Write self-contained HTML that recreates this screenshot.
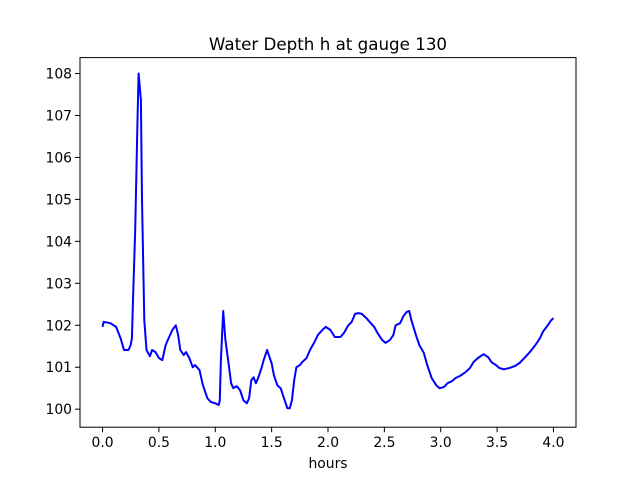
<!DOCTYPE html>
<html><head><meta charset="utf-8"><style>
body{margin:0;background:#fff;}
svg text{font-family:"DejaVu Sans","Liberation Sans",sans-serif;fill:#000;}
</style></head><body>
<svg id="chart" width="640" height="480">
<rect width="640" height="480" fill="#fff"/>
<text x="328" y="50" font-size="16.7" text-anchor="middle">Water Depth h at gauge 130</text>
<g id="xaxis"></g>
<g id="yaxis"></g>
<path id="line" fill="none" stroke="#0000ff" stroke-width="2" stroke-linejoin="round"/>
<rect x="80" y="57.6" width="496" height="369.6" fill="none" stroke="#000" stroke-width="1"/>
<text x="328" y="468" font-size="13.9" text-anchor="middle">hours</text>
</svg>
<script>
const hours=[0.00,0.01,0.07,0.12,0.16,0.19,0.23,0.25,0.26,0.27,0.29,0.31,0.32,0.34,0.35,0.37,0.39,0.42,0.44,0.47,0.50,0.53,0.56,0.58,0.62,0.65,0.67,0.69,0.72,0.74,0.77,0.80,0.82,0.86,0.89,0.93,0.96,1.00,1.03,1.04,1.05,1.07,1.09,1.12,1.14,1.16,1.19,1.22,1.25,1.28,1.30,1.32,1.34,1.36,1.38,1.41,1.43,1.46,1.49,1.50,1.52,1.55,1.58,1.61,1.64,1.66,1.68,1.70,1.72,1.75,1.77,1.81,1.84,1.88,1.91,1.95,1.98,2.02,2.06,2.11,2.14,2.18,2.21,2.24,2.27,2.30,2.34,2.37,2.41,2.44,2.48,2.51,2.55,2.58,2.60,2.64,2.67,2.70,2.72,2.74,2.78,2.81,2.85,2.88,2.92,2.96,2.99,3.03,3.06,3.10,3.13,3.17,3.22,3.26,3.29,3.33,3.38,3.42,3.45,3.49,3.52,3.56,3.61,3.66,3.70,3.75,3.79,3.84,3.88,3.91,3.95,3.98,4.00];
const depth=[101.96,102.08,102.05,101.96,101.69,101.41,101.41,101.53,101.69,102.60,104.27,106.90,108.00,107.37,104.99,102.12,101.41,101.26,101.41,101.36,101.22,101.17,101.53,101.65,101.89,102.00,101.77,101.41,101.29,101.36,101.22,101.00,101.05,100.93,100.57,100.26,100.17,100.14,100.10,100.21,101.17,102.34,101.65,101.05,100.62,100.50,100.55,100.45,100.21,100.14,100.26,100.69,100.76,100.62,100.74,100.98,101.17,101.41,101.17,101.10,100.81,100.57,100.50,100.26,100.02,100.02,100.21,100.69,101.00,101.05,101.12,101.22,101.41,101.60,101.77,101.89,101.96,101.89,101.72,101.72,101.81,102.00,102.08,102.27,102.29,102.27,102.17,102.08,101.96,101.81,101.65,101.58,101.65,101.77,102.00,102.05,102.22,102.32,102.34,102.12,101.77,101.53,101.34,101.05,100.74,100.57,100.50,100.53,100.62,100.67,100.74,100.79,100.88,100.98,101.12,101.22,101.31,101.24,101.12,101.05,100.98,100.95,100.98,101.03,101.10,101.24,101.36,101.53,101.69,101.86,102.00,102.12,102.17];
const xTicks=[0.0,0.5,1.0,1.5,2.0,2.5,3.0,3.5,4.0];
const xTickLabels=["0.0","0.5","1.0","1.5","2.0","2.5","3.0","3.5","4.0"];
const yTicks=[100,101,102,103,104,105,106,107,108];
const yTickLabels=["100","101","102","103","104","105","106","107","108"];
const X0=80,X1=576,Y0=427.2,Y1=57.6,xmin=-0.2,xmax=4.2,ymin=99.57,ymax=108.38;
const sx=v=>X0+(v-xmin)/(xmax-xmin)*(X1-X0);
const sy=v=>Y0-(v-ymin)/(ymax-ymin)*(Y0-Y1);
const NS="http://www.w3.org/2000/svg";
const xa=document.getElementById('xaxis'),ya=document.getElementById('yaxis');
xTicks.forEach((t,i)=>{
 const l=document.createElementNS(NS,'line');
 l.setAttribute('x1',sx(t));l.setAttribute('x2',sx(t));l.setAttribute('y1',Y0);l.setAttribute('y2',Y0+5);l.setAttribute('stroke','#000');
 
 
 xa.appendChild(l);
 const tx=document.createElementNS(NS,'text');
 tx.setAttribute('x',sx(t));tx.setAttribute('y',Y0+20);tx.setAttribute('font-size','13.9');tx.setAttribute('text-anchor','middle');
 tx.textContent=xTickLabels[i];
 
 
 xa.appendChild(tx);
});
yTicks.forEach((t,i)=>{
 const l=document.createElementNS(NS,'line');
 l.setAttribute('x1',X0-5);l.setAttribute('x2',X0);l.setAttribute('y1',sy(t));l.setAttribute('y2',sy(t));l.setAttribute('stroke','#000');
 
 
 ya.appendChild(l);
 const tx=document.createElementNS(NS,'text');
 tx.setAttribute('x',X0-8);tx.setAttribute('y',sy(t)+5);tx.setAttribute('font-size','13.9');tx.setAttribute('text-anchor','end');
 tx.textContent=yTickLabels[i];
 
 
 ya.appendChild(tx);
});
document.getElementById('line').setAttribute('d',hours.map((h,i)=>(i?'L':'M')+sx(h).toFixed(1)+' '+sy(depth[i]).toFixed(1)).join(' '));
</script>
</body></html>
